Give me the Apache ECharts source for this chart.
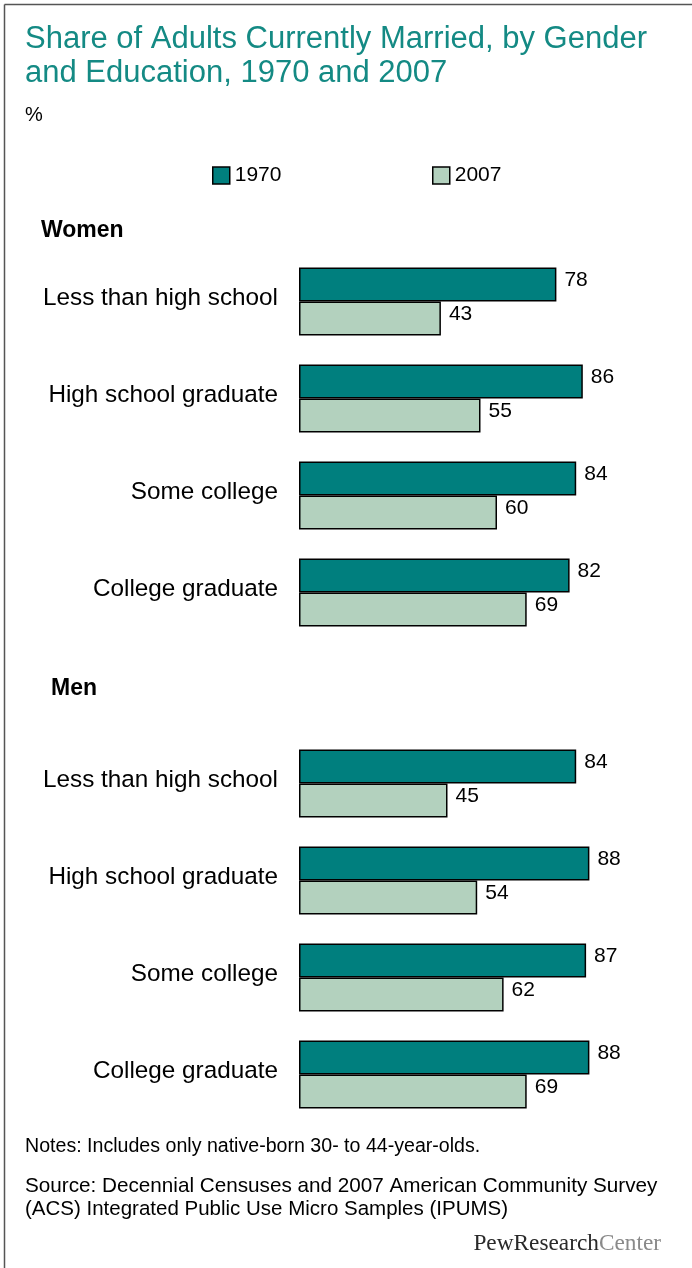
<!DOCTYPE html>
<html>
<head>
<meta charset="utf-8">
<script src="https://cdn.jsdelivr.net/npm/echarts@6/dist/echarts.min.js"></script>
<style>
html,body{margin:0;padding:0;background:#fff;}
#chart{width:692px;height:1268px;}
</style>
</head>
<body>
<div id="chart"></div>
<script>
const categories = ['Less than high school', 'High school graduate', 'Some college', 'College graduate'];
const seriesNames = ['1970', '2007'];
const women1970 = [78, 86, 84, 82];
const women2007 = [43, 55, 60, 69];
const men1970 = [84, 88, 87, 88];
const men2007 = [45, 54, 62, 69];
const groupNames = ['Women', 'Men'];

const FONT = '"Liberation Sans", Arial, sans-serif';
const C1970 = '#007f7e';
const C2007 = '#b3d1be';
const TITLE_C = '#148a84';

const chart = echarts.init(document.getElementById('chart'), null, {renderer: 'canvas'});

function barSeries(name, data, idx, color) {
  return {
    type: 'bar', name: name, data: data,
    xAxisIndex: idx, yAxisIndex: idx,
    barWidth: 34, barGap: '0%',
    itemStyle: {color: color, borderColor: '#000', borderWidth: 1.5},
    label: {show: true, position: 'right', distance: 8, offset: [0, -4],
      color: '#000', fontSize: 21, fontFamily: FONT},
    silent: true, animation: false
  };
}

function yAx(idx) {
  return {
    type: 'category', gridIndex: idx, data: categories, inverse: true,
    axisLine: {show: false}, axisTick: {show: false}, splitLine: {show: false},
    axisLabel: {color: '#000', fontSize: 24.3, fontFamily: FONT, margin: 21,
      verticalAlign: 'bottom', lineHeight: 7}
  };
}
function xAx(idx) {
  return {type: 'value', gridIndex: idx, min: 0, max: 100, show: false};
}

const legendBase = {
  orient: 'horizontal', itemWidth: 17, itemHeight: 17, itemGap: 10, padding: 0,
  icon: 'rect', selectedMode: false,
  textStyle: {color: '#000', fontSize: 21, fontFamily: FONT},
  itemStyle: {borderColor: '#000', borderWidth: 1.5}
};

const option = {
  backgroundColor: '#fff',
  animation: false,
  textStyle: {fontFamily: FONT},
  legend: [
    Object.assign({}, legendBase, {data: [seriesNames[0]], left: 212, top: 165}),
    Object.assign({}, legendBase, {data: [seriesNames[1]], left: 432, top: 165})
  ],
  grid: [
    {left: 299, width: 330, top: 253, height: 388, containLabel: false},
    {left: 299, width: 330, top: 735, height: 388, containLabel: false}
  ],
  xAxis: [xAx(0), xAx(1)],
  yAxis: [yAx(0), yAx(1)],
  series: [
    barSeries(seriesNames[0], women1970, 0, C1970),
    barSeries(seriesNames[1], women2007, 0, C2007),
    barSeries(seriesNames[0], men1970, 1, C1970),
    barSeries(seriesNames[1], men2007, 1, C2007)
  ],
  graphic: [
    {type: 'line', shape: {x1: 4.5, y1: 4.5, x2: 692, y2: 4.5}, style: {stroke: '#555', lineWidth: 1.5}, silent: true},
    {type: 'line', shape: {x1: 4.5, y1: 4.5, x2: 4.5, y2: 1268}, style: {stroke: '#555', lineWidth: 1.5}, silent: true},
    {type: 'text', x: 25, y: 39.5, style: {text: 'Share of Adults Currently Married, by Gender',
      fill: TITLE_C, font: '31px ' + FONT, verticalAlign: 'middle'}, silent: true},
    {type: 'text', x: 25, y: 73, style: {text: 'and Education, 1970 and 2007',
      fill: TITLE_C, font: '31px ' + FONT, verticalAlign: 'middle'}, silent: true},
    {type: 'text', x: 25, y: 115, style: {text: '%', fill: '#000', font: '20px ' + FONT, verticalAlign: 'middle'}, silent: true},
    {type: 'text', x: 41, y: 231, style: {text: groupNames[0], fill: '#000', font: 'bold 23px ' + FONT, verticalAlign: 'middle'}, silent: true},
    {type: 'text', x: 51, y: 689, style: {text: groupNames[1], fill: '#000', font: 'bold 23px ' + FONT, verticalAlign: 'middle'}, silent: true},
    {type: 'text', x: 25, y: 1147, style: {text: 'Notes: Includes only native-born 30- to 44-year-olds.', fill: '#000', font: '19.6px ' + FONT, verticalAlign: 'middle'}, silent: true},
    {type: 'text', x: 25, y: 1186, style: {text: 'Source: Decennial Censuses and 2007 American Community Survey', fill: '#000', font: '20.7px ' + FONT, verticalAlign: 'middle'}, silent: true},
    {type: 'text', x: 25, y: 1209, style: {text: '(ACS) Integrated Public Use Micro Samples (IPUMS)', fill: '#000', font: '20.5px ' + FONT, verticalAlign: 'middle'}, silent: true},
    {type: 'text', x: 661, y: 1244, style: {
      text: '{a|PewResearch}{b|Center}', align: 'right', verticalAlign: 'middle',
      rich: {
        a: {fill: '#2a2a2a', font: '23.3px "Liberation Serif", serif'},
        b: {fill: '#8a8a8a', font: '23.3px "Liberation Serif", serif'}
      }}, silent: true}
  ]
};
chart.setOption(option);
</script>
</body>
</html>
